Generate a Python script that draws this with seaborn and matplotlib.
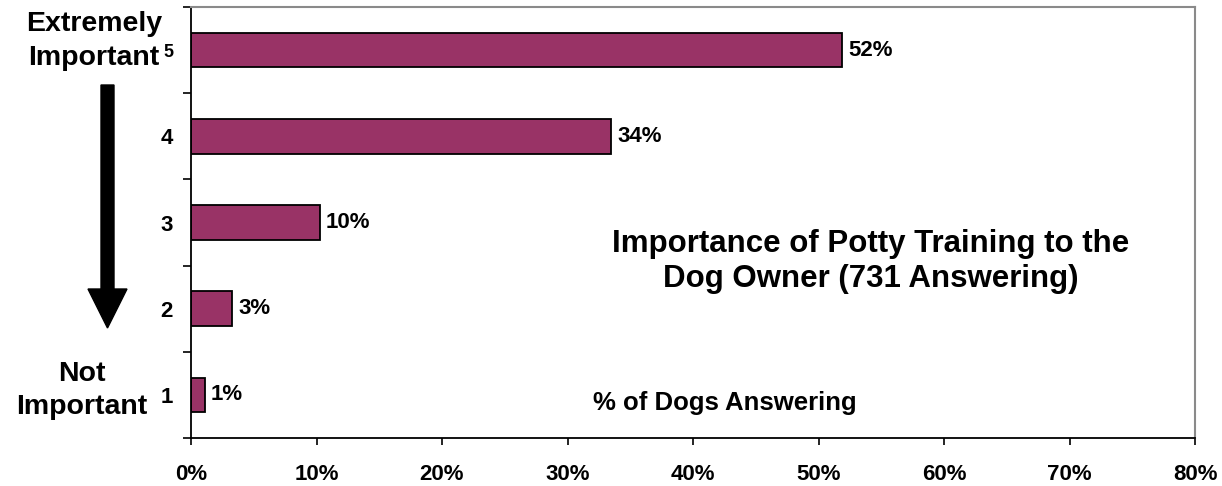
import matplotlib
matplotlib.use("Agg")
import matplotlib.pyplot as plt
import matplotlib.ticker as mticker
from matplotlib.patches import Polygon
import seaborn as sns
import pandas as pd

sns.set_style("white")
plt.rcParams['font.family'] = ['Liberation Sans', 'DejaVu Sans']
plt.rcParams['font.weight'] = 'bold'
plt.rcParams['text.color'] = 'black'
plt.rcParams['xtick.color'] = 'black'
plt.rcParams['ytick.color'] = 'black'

# data
ratings = ['5', '4', '3', '2', '1']
pct_dogs = [51.9, 33.5, 10.3, 3.3, 1.1]
pct_labels = ['52%', '34%', '10%', '3%', '1%']
x_ticks = [0, 10, 20, 30, 40, 50, 60, 70, 80]

df = pd.DataFrame({'Rating': ratings, 'Pct': pct_dogs})

fig = plt.figure(figsize=(12.22, 4.86), dpi=100)
ax = fig.add_axes([191/1222, 1 - 438/486, (1195 - 191)/1222, (438 - 7)/486])

sns.barplot(data=df, x='Pct', y='Rating', order=ratings, orient='h',
            color='#993366', saturation=1, edgecolor='black', linewidth=1.3,
            width=0.4, ax=ax)

# value labels
for i, (v, lab) in enumerate(zip(pct_dogs, pct_labels)):
    ax.annotate(lab, (v, i), xytext=(4, 0), textcoords='offset points',
                ha='left', va='center', fontsize=16, fontweight='bold')

ax.set_xlim(0, 80)
ax.set_ylim(4.5, -0.5)
ax.set_xticks(x_ticks)
ax.xaxis.set_major_formatter(mticker.FuncFormatter(lambda v, p: f'{v:.0f}%'))
ax.tick_params(axis='x', direction='out', length=5, width=1.2, color='black',
               labelsize=16, pad=14, bottom=True)
for t in ax.get_xticklabels():
    t.set_fontweight('bold')

# y: labels at centers, tick marks at boundaries
ax.set_yticks(range(len(ratings)))
ax.set_yticks([i - 0.5 for i in range(len(ratings) + 1)], minor=True)
ax.tick_params(axis='y', which='major', length=0, labelsize=16, pad=13)
ax.tick_params(axis='y', which='minor', direction='out', length=6, width=1.2,
               color='black', left=True)
for t in ax.get_yticklabels():
    t.set_fontweight('bold')
ax.get_yticklabels()[0].set_fontsize(13)

ax.set_xlabel('')
ax.set_ylabel('')

for s in ['left', 'bottom']:
    ax.spines[s].set_color('black')
    ax.spines[s].set_linewidth(1.3)
for s in ['top', 'right']:
    ax.spines[s].set_color('#8a8a8a')
    ax.spines[s].set_linewidth(1.5)
    ax.spines[s].set_visible(True)

# annotations
ax.text(0.677, 0.41, 'Importance of Potty Training to the\nDog Owner (731 Answering)',
        transform=ax.transAxes, ha='center', va='center', fontsize=22.5,
        fontweight='bold', linespacing=1.2)
ax.text(0.532, 0.081, '% of Dogs Answering', transform=ax.transAxes,
        ha='center', va='center', fontsize=18.5, fontweight='bold')

fig.text(94/1222, 1 - 41/486, 'Extremely\nImportant', ha='center', va='center',
         fontsize=20.5, fontweight='bold', linespacing=1.38)
fig.text(82/1222, 1 - 390/486, 'Not\nImportant', ha='center', va='center',
         fontsize=20.5, fontweight='bold', linespacing=1.35)

# down arrow, in figure pixels
H = 486
pts = [(101, 85), (114, 85), (114, 289), (127, 289), (107.5, 328),
       (88, 289), (101, 289)]
arrow = Polygon([(x / 100, (H - y) / 100) for x, y in pts], closed=True,
                facecolor='black', edgecolor='black',
                transform=fig.dpi_scale_trans)
fig.patches.append(arrow)

fig.savefig('out.png', dpi=100)
